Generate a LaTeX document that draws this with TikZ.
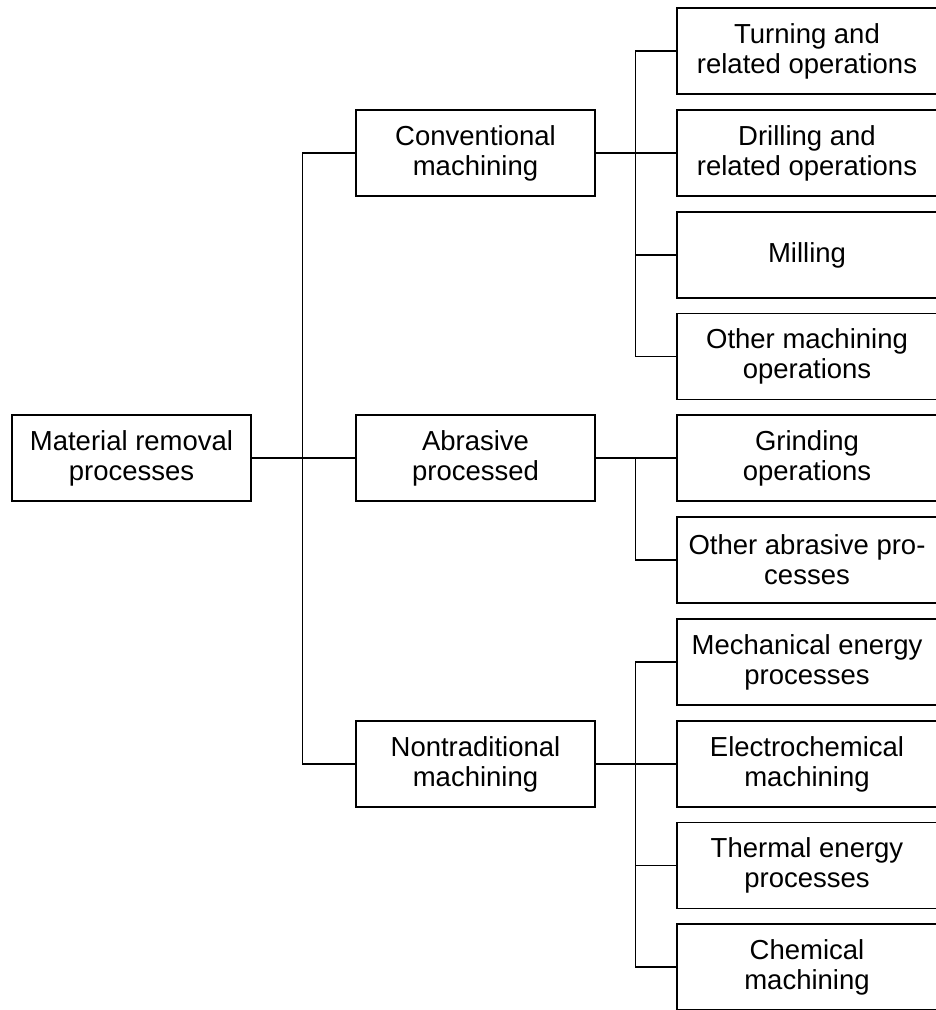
\documentclass[tikz,border=0pt]{standalone}
\usepackage{fontspec}
\setmainfont{Liberation Sans}
\begin{document}
\begin{tikzpicture}[
			x = 1pt, y = -1pt,
			line width = 1.2pt,
			box/.style = {draw, align=center, inner sep=0pt,
				minimum width=239pt, minimum height=86pt,
				font=\fontsize{27.5}{30}\selectfont},
			leaf/.style = {box, minimum width=260pt}
			]
			\useasboundingbox (0,0) rectangle (935,1010);

			% root and first level
			\node[box] (root) at (131.5,458) {Material removal\\processes};
			\node[box] (conv) at (475.5,153) {Conventional\\machining};
			\node[box] (abras) at (475.5,458) {Abrasive\\processed};
			\node[box] (nontrad) at (475.5,764) {Nontraditional\\machining};

			% second level
			\node[leaf] (turning) at (807,51) {Turning and\\related operations};
			\node[leaf] (drilling) at (807,153) {Drilling and\\related operations};
			\node[leaf] (milling) at (807,255) {Milling};
			\node[leaf] (othermach) at (807,356.5) {Other machining\\operations};
			\node[leaf] (grinding) at (807,458) {Grinding\\operations};
			\node[leaf] (otherabr) at (807,560) {Other abrasive pro-\\cesses};
			\node[leaf] (mech) at (807,662) {Mechanical energy\\processes};
			\node[leaf] (electro) at (807,764) {Electrochemical\\machining};
			\node[leaf] (thermal) at (807,865.5) {Thermal energy\\processes};
			\node[leaf] (chem) at (807,967) {Chemical\\machining};

			% connectors
			\draw (conv.west) -- ++(-53,0) |- (nontrad.west);
			\draw (root.east) -- (abras.west);

			\draw (turning.west) -- ++(-41,0) |- (othermach.west);
			\draw (conv.east) -- (drilling.west);
			\draw (milling.west) -- ++(-41,0);

			\draw (grinding.west) -- ++(-41,0) |- (otherabr.west);
			\draw (abras.east) -- (grinding.west);

			\draw (mech.west) -- ++(-41,0) |- (chem.west);
			\draw (nontrad.east) -- (electro.west);
			\draw (thermal.west) -- ++(-41,0);

		\end{tikzpicture}
\end{document}
